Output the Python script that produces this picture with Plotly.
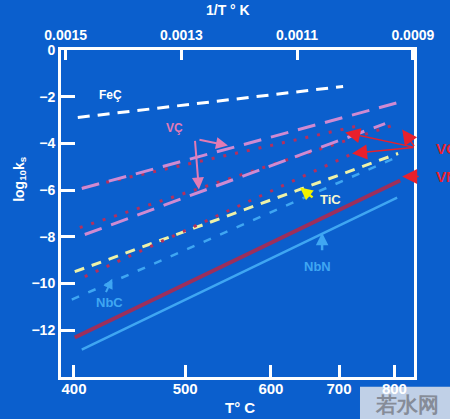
import plotly.graph_objects as go

# values: x is 1/T (K^-1), y is log10 ks
FeC_invT = [0.001479, 0.0010205]
FeC_logk = [-2.89, -1.56]

VC_a_invT = [0.0014721, 0.0009254]
VC_a_logk = [-5.93, -2.25]
VC_b_invT = [0.0014669, 0.0009479]
VC_b_logk = [-7.90, -3.15]

VCr_1_invT = [0.0014703, 0.0009911]
VCr_1_logk = [-5.89, -3.23]
VCr_2_invT = [0.0014755, 0.0009306]
VCr_2_logk = [-7.60, -3.19]
VCr_3_invT = [0.0014669, 0.0009998]
VCr_3_logk = [-9.70, -4.39]

TiC_invT = [0.0014842, 0.0009254]
TiC_logk = [-9.49, -4.43]

NbC_invT = [0.0014894, 0.0009254]
NbC_logk = [-10.69, -4.56]

VN_invT = [0.0014842, 0.0009219]
VN_logk = [-12.31, -5.59]

NbN_invT = [0.0014721, 0.0009271]
NbN_logk = [-12.83, -6.32]

TEMPS_C = [400, 500, 600, 700, 800]
INV_T_TICKS = [0.0015, 0.0013, 0.0011, 0.0009]
LOGK_TICKS = [0, -2, -4, -6, -8, -10, -12]

BG = "#0b5fcd"
WHITE = "#ffffff"
PINK = "#cf8ad2"
DOTRED = "#b3305e"
ARROWRED = "#e8202c"
LIGHTBLUE = "#3fa6f2"
MAROON = "#9c2f5c"
TIC_COL = "#eef2a8"
FONT = "Liberation Sans"
X_RANGE = [0.001508, 0.000898]

fig = go.Figure()

fig.add_scatter(x=NbN_invT, y=NbN_logk, mode="lines",
                line=dict(color=LIGHTBLUE, width=2.5))
fig.add_scatter(x=VN_invT, y=VN_logk, mode="lines",
                line=dict(color=MAROON, width=4))
fig.add_scatter(x=NbC_invT, y=NbC_logk, mode="lines",
                line=dict(color=LIGHTBLUE, width=2.5, dash="8px,10px"))
fig.add_scatter(x=TiC_invT, y=TiC_logk, mode="lines",
                line=dict(color=TIC_COL, width=3, dash="10px,8px"))
for xs, ys in [(VCr_1_invT, VCr_1_logk), (VCr_2_invT, VCr_2_logk),
               (VCr_3_invT, VCr_3_logk)]:
    fig.add_scatter(x=xs, y=ys, mode="lines",
                    line=dict(color=DOTRED, width=3, dash="3px,9px"))
fig.add_scatter(x=VC_a_invT, y=VC_a_logk, mode="lines",
                line=dict(color=PINK, width=3, dash="18px,10px"))
fig.add_scatter(x=VC_b_invT, y=VC_b_logk, mode="lines",
                line=dict(color=PINK, width=3, dash="18px,10px"))
fig.add_scatter(x=FeC_invT, y=FeC_logk, mode="lines",
                line=dict(color=WHITE, width=3, dash="12px,8px"))
# keeps the top axis drawn
fig.add_scatter(x=[INV_T_TICKS[0]], y=[0], xaxis="x2", mode="markers",
                marker=dict(opacity=0), hoverinfo="skip")

ann = []


def arrow(hx, hy, dx, dy, color, width=2, size=1.2):
    # dx, dy: tail offset from the head, in pixels
    ann.append(dict(x=hx, y=hy, ax=dx, ay=dy, xref="x", yref="y",
                    text="", showarrow=True, arrowhead=2, arrowsize=size,
                    arrowwidth=width, arrowcolor=color))


def label(x, y, text, color, size=13, xref="x", yref="y", xanchor="center"):
    ann.append(dict(x=x, y=y, xref=xref, yref=yref, text=text,
                    showarrow=False, xanchor=xanchor, yanchor="middle",
                    font=dict(family=FONT, size=size, color=color,
                              weight="bold")))


label(0.0014219, -1.91, "FeÇ", WHITE, 12)
label(0.0013112, -3.32, "VÇ", "#e27bb4", 12)
arrow(0.0012195, -4.09, -30, -6, "#e27bb4")
arrow(0.0012697, -5.97, -4, -50, "#e27bb4")
label(0.0010430, -6.42, "TiC", "#f8f8d0", 13)
arrow(0.0010949, -5.89, 14, 11, "#f2f200", width=2.5, size=1)
label(0.0010655, -9.27, "NbN", LIGHTBLUE, 13)
arrow(0.0010568, -7.82, 0, 19, LIGHTBLUE, width=2.5, size=1)
label(0.0014236, -10.81, "NbC", LIGHTBLUE, 13)
arrow(0.0014194, -9.79, -7, 15, LIGHTBLUE, width=2, size=1)
for hx, hy, dx, dy in [(0.0010170, -3.53, 70, 15),
                       (0.0010050, -4.43, 63, -6),
                       (0.0009184, -3.40, 13, 18)]:
    arrow(hx, hy, dx, dy, ARROWRED, width=1.5, size=2)
arrow(0.0009184, -5.42, 18, 0, ARROWRED, width=1.5, size=2)
label(1.058, 0.700, "VC", ARROWRED, 15, xref="paper", yref="paper",
      xanchor="left")
label(1.058, 0.612, "VN", ARROWRED, 15, xref="paper", yref="paper",
      xanchor="left")

# axis titles
label(0.472, 1.122, "1/T ° K", WHITE, 14, xref="paper", yref="paper")
label(0.507, -0.092, "T° C", WHITE, 15, xref="paper", yref="paper")
ann.append(dict(x=-0.117, y=0.605, xref="paper", yref="paper",
                xanchor="center", yanchor="middle",
                text="log<sub>10</sub>k<sub>s</sub>", textangle=-90,
                showarrow=False,
                font=dict(family=FONT, size=14, color=WHITE, weight="bold")))

# watermark
label(0.98, -0.085, "若水网", "#868c98", 21, xref="paper", yref="paper")

fig.add_shape(type="rect", xref="paper", yref="paper",
              x0=0.847, x1=1.11, y0=-0.03, y1=-0.135,
              fillcolor="rgba(225,228,235,0.85)", line=dict(width=0),
              layer="below")

tick_font = dict(family=FONT, size=14, color=WHITE, weight="bold")
fig.update_layout(
    width=450, height=419,
    margin=dict(l=61, r=36, t=50, b=42),
    paper_bgcolor=BG, plot_bgcolor=BG,
    showlegend=False,
    annotations=ann,
    xaxis=dict(
        range=X_RANGE, showgrid=False, zeroline=False,
        tickmode="array",
        tickvals=[1 / (t + 273.15) for t in TEMPS_C],
        ticktext=[str(t) for t in TEMPS_C],
        ticks="inside", ticklen=12, tickwidth=3, tickcolor=WHITE,
        showline=True, linecolor=WHITE, linewidth=3, mirror=True,
        ticklabelstandoff=-4,
        tickfont=dict(family=FONT, size=15, color=WHITE, weight="bold"),
    ),
    xaxis2=dict(
        range=X_RANGE, overlaying="x", side="top", showgrid=False,
        zeroline=False, tickmode="array", tickvals=INV_T_TICKS,
        ticktext=[f"{v:.4f}" for v in INV_T_TICKS],
        ticks="inside", ticklen=10, tickwidth=3, tickcolor=WHITE,
        ticklabelstandoff=6, tickfont=tick_font,
    ),
    yaxis=dict(
        range=[-14, 0], showgrid=False, zeroline=False,
        tickmode="array", tickvals=LOGK_TICKS,
        ticks="inside", ticklen=14, tickwidth=3, tickcolor=WHITE,
        showline=True, linecolor=WHITE, linewidth=3, mirror=True,
        tickfont=tick_font,
    ),
)

fig.write_html(
    "out.html",
    config={"displayModeBar": False},
    post_script="document.body.style.margin='0';"
                "document.body.style.overflow='hidden';",
)
